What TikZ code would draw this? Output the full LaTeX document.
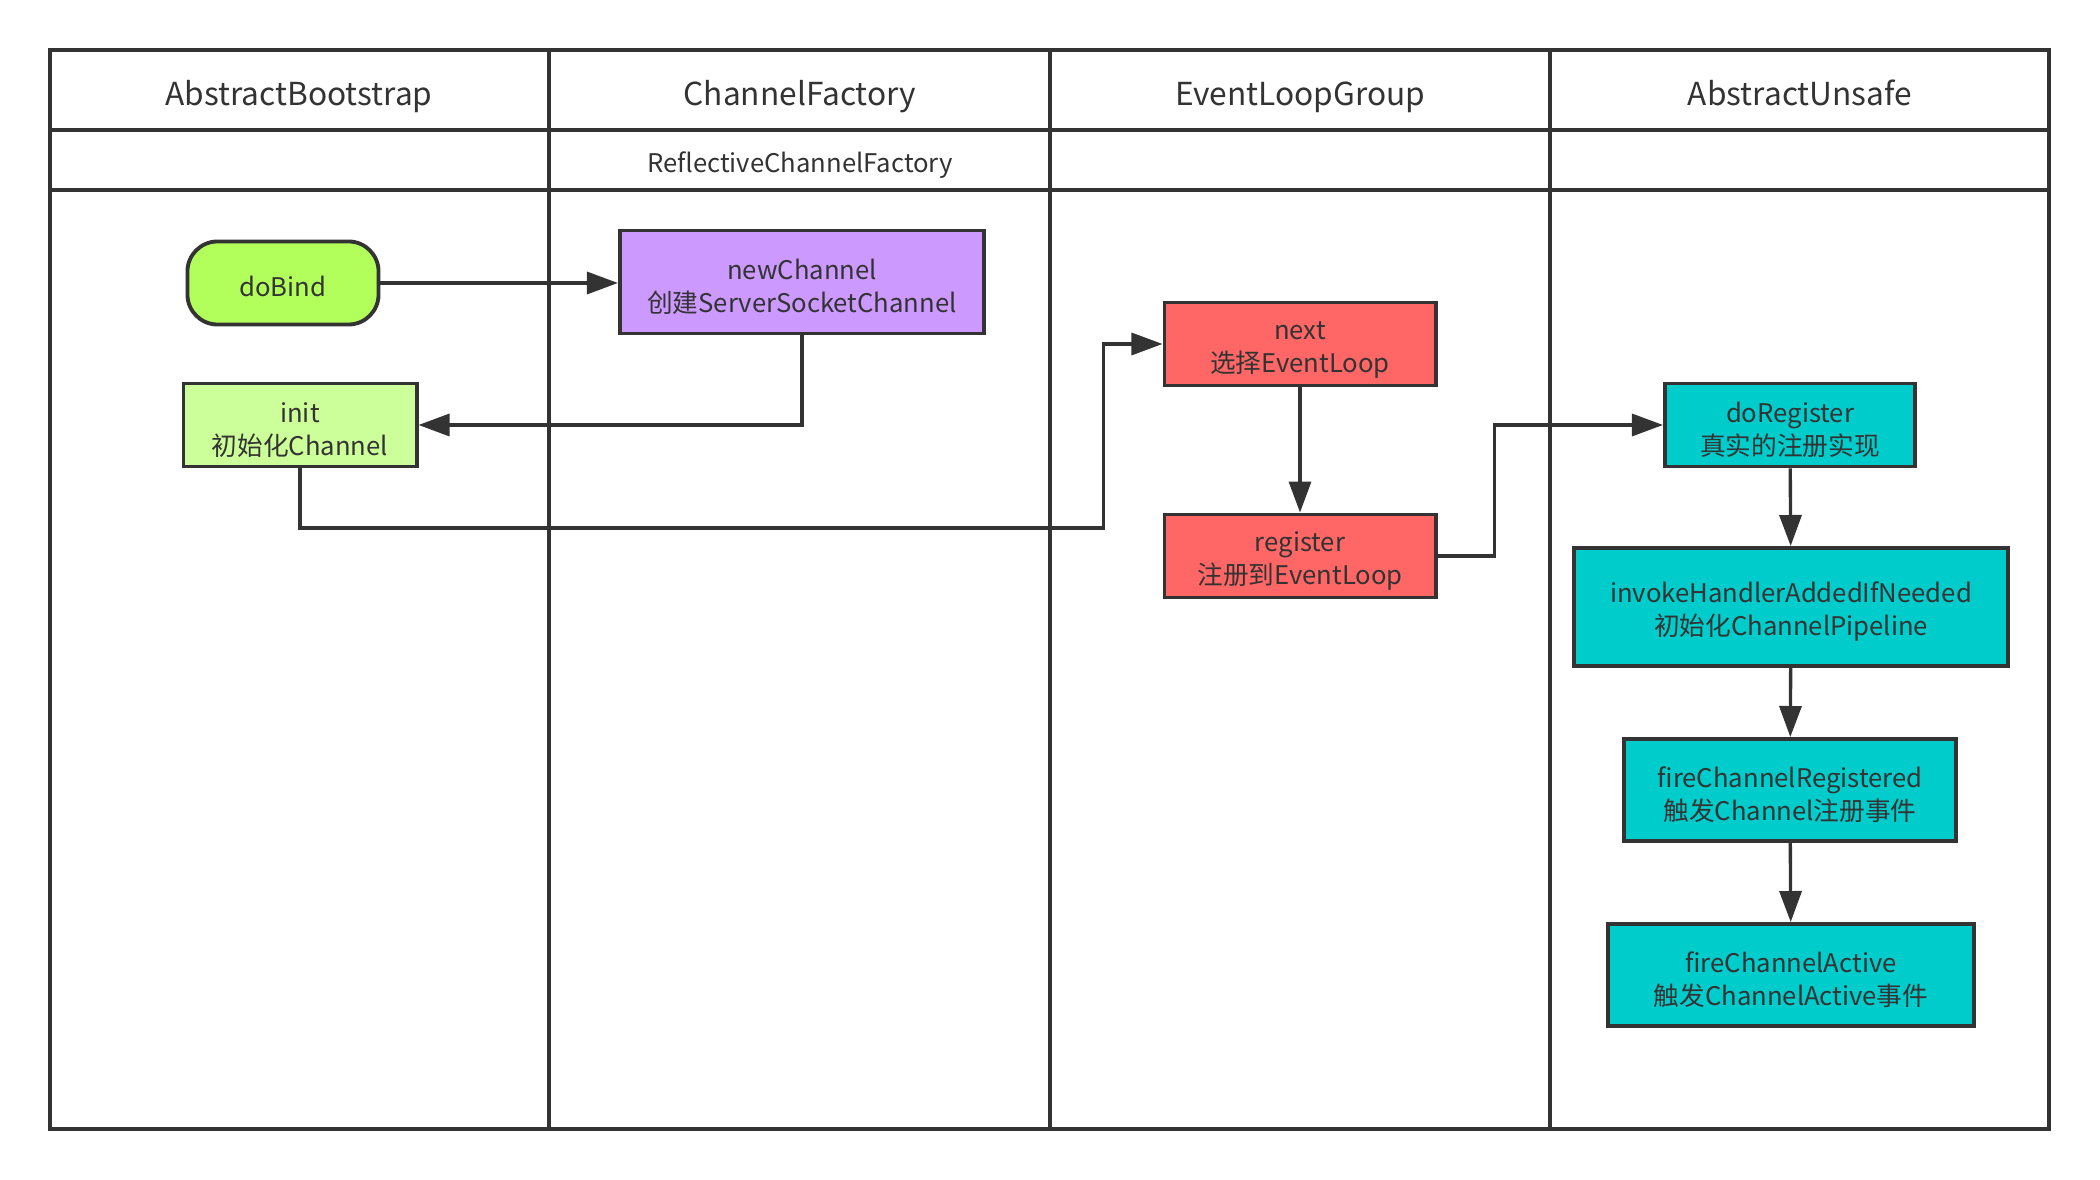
\documentclass[tikz,border=0pt]{standalone}
\usepackage{fontspec}
\setmainfont{Noto Sans CJK SC}
\usepackage{tikz}
\usetikzlibrary{arrows.meta,positioning,calc}
\definecolor{lanegray}{HTML}{333333}
\definecolor{bindgreen}{HTML}{B2FF5C}
\definecolor{initgreen}{HTML}{CCFF99}
\definecolor{factorypurple}{HTML}{CC99FF}
\definecolor{loopred}{HTML}{FF6666}
\definecolor{unsafecyan}{HTML}{00CCCC}

\begin{document}
\begin{tikzpicture}[x=0.01cm, y=-0.01cm, text=lanegray,
    font=\fontsize{7.3}{9.4}\selectfont,
    lane/.style={draw=lanegray, line width=1.1pt},
    title/.style={font=\fontsize{9}{11}\selectfont, anchor=base},
    box/.style={draw=lanegray, line width=1.1pt, align=center, inner sep=0pt, text height=17.9pt},
    flow/.style={draw=lanegray, line width=0.95pt, -{Triangle[length=3.1mm,width=2.2mm]}}]
    \useasboundingbox (0,0) rectangle (2100,1180);
    % swimlanes
    \draw[lane] (49.6,49.6) rectangle (2049,1129);
    \draw[lane] (49.6,130) -- (2049,130);
    \draw[lane] (49.6,190) -- (2049,190);
    \foreach \xx in {549,1050,1550}
      \draw[lane] (\xx,49.6) -- (\xx,1129);
    \node[title] (hbootstrap) at (299,105.5) {AbstractBootstrap};
    \node[title] (hfactory) at (800,105.5) {ChannelFactory};
    \node[title] (hgroup) at (1300,105.5) {EventLoopGroup};
    \node[title] (hunsafe) at (1800,105.5) {AbstractUnsafe};
    \node[anchor=base] (hreflective) at (800,172.5) {ReflectiveChannelFactory};
    % steps
    \node[box, text height=7.5pt, fill=bindgreen, rounded corners=0.3cm, minimum width=1.91cm, minimum height=0.83cm] (dobind) at (283,283) {doBind};
    \node[box, fill=factorypurple, minimum width=3.64cm, minimum height=1.03cm] (newchannel) at (802,282) {newChannel\\创建ServerSocketChannel};
    \node[box, fill=initgreen, minimum width=2.33cm, minimum height=0.83cm] (init) at (300,425) {init\\初始化Channel};
    \node[box, fill=loopred, minimum width=2.71cm, minimum height=0.83cm] (next) at (1300,344) {next\\选择EventLoop};
    \node[box, fill=loopred, minimum width=2.71cm, minimum height=0.83cm] (register) at (1300,556) {register\\注册到EventLoop};
    \node[box, fill=unsafecyan, minimum width=2.5cm, minimum height=0.83cm] (doregister) at (1790,425) {doRegister\\真实的注册实现};
    \node[box, fill=unsafecyan, minimum width=4.34cm, minimum height=1.18cm] (invoke) at (1791,607) {invokeHandlerAddedIfNeeded\\初始化ChannelPipeline};
    \node[box, fill=unsafecyan, minimum width=3.31cm, minimum height=1.02cm] (firereg) at (1790,790) {fireChannelRegistered\\触发Channel注册事件};
    \node[box, fill=unsafecyan, minimum width=3.65cm, minimum height=1.02cm] (fireactive) at (1791,975) {fireChannelActive\\触发ChannelActive事件};
    % connectors
    \coordinate (bendA) at (1103.6,528);
    \coordinate (bendB) at (1494.6,425);
    \draw[flow] (dobind.east) -- (dobind.east -| newchannel.west);
    \draw[flow] (newchannel.south) |- (init.east);
    \draw[flow] (init.south) |- (bendA) |- (next.west);
    \draw[flow] (next) -- (register);
    \draw[flow] (register.east) -| (bendB) -- (doregister.west);
    \draw[flow] (doregister) -- (invoke);
    \draw[flow] (invoke) -- (firereg);
    \draw[flow] (firereg) -- (fireactive);
\end{tikzpicture}
\end{document}
